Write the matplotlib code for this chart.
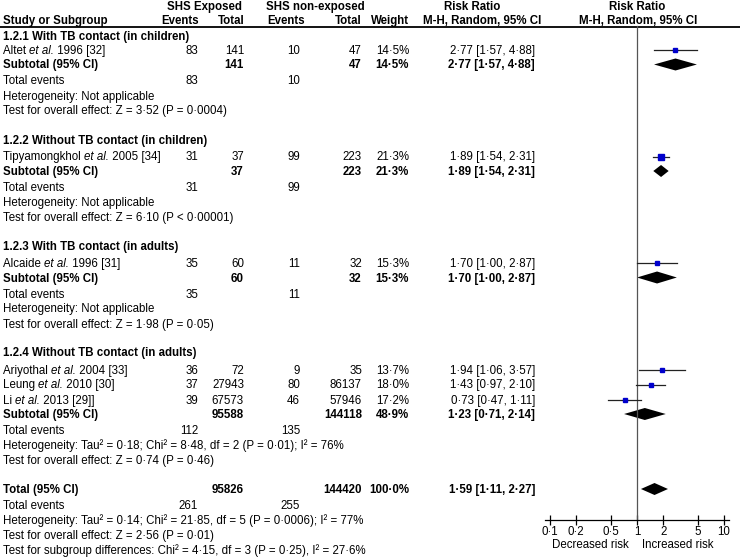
import matplotlib
matplotlib.use('Agg')
import matplotlib.pyplot as plt

plt.rcParams['font.family'] = ['Liberation Sans', 'DejaVu Sans']
FS = 8.3

# studies
authors = ['Altet', 'Tipyamongkhol', 'Alcaide', 'Ariyothal', 'Leung', 'Li']
refs = ['1996 [32]', '2005 [34]', '1996 [31]', '2004 [33]', '2010 [30]', '2013 [29]]']
study_group = [0, 1, 2, 3, 3, 3]
exp_events = [83, 31, 35, 36, 37, 39]
exp_total = [141, 37, 60, 72, 27943, 67573]
non_events = [10, 99, 11, 9, 80, 46]
non_total = [47, 223, 32, 35, 86137, 57946]
weights = [14.5, 21.3, 15.3, 13.7, 18.0, 17.2]
rr = [2.77, 1.89, 1.70, 1.94, 1.43, 0.73]
rr_lo = [1.57, 1.54, 1.00, 1.06, 0.97, 0.47]
rr_hi = [4.88, 2.31, 2.87, 3.57, 2.10, 1.11]

# subgroups
sub_names = ['1.2.1 With TB contact (in children)', '1.2.2 Without TB contact (in children)',
             '1.2.3 With TB contact (in adults)', '1.2.4 Without TB contact (in adults)']
sub_exp_total = [141, 37, 60, 95588]
sub_non_total = [47, 223, 32, 144118]
sub_exp_events = [83, 31, 35, 112]
sub_non_events = [10, 99, 11, 135]
sub_weights = [14.5, 21.3, 15.3, 48.9]
sub_rr = [2.77, 1.89, 1.70, 1.23]
sub_lo = [1.57, 1.54, 1.00, 0.71]
sub_hi = [4.88, 2.31, 2.87, 2.14]
sub_het = ['Not applicable', 'Not applicable', 'Not applicable',
           'Tau² = 0·18; Chi² = 8·48, df = 2 (P = 0·01); I² = 76%']
sub_z = ['Z = 3·52 (P = 0·0004)', 'Z = 6·10 (P < 0·00001)', 'Z = 1·98 (P = 0·05)', 'Z = 0·74 (P = 0·46)']

# overall
tot_exp_total, tot_non_total = 95826, 144420
tot_exp_events, tot_non_events = 261, 255
tot_weight = 100.0
tot_rr, tot_lo, tot_hi = 1.59, 1.11, 2.27
tot_het = 'Tau² = 0·14; Chi² = 21·85, df = 5 (P = 0·0006); I² = 77%'
tot_z = 'Z = 2·56 (P = 0·01)'
sub_diff = 'Chi² = 4·15, df = 3 (P = 0·25), I² = 27·6%'

ticks = [0.1, 0.2, 0.5, 1, 2, 5, 10]
tick_labels = ['0·1', '0·2', '0·5', '1', '2', '5', '10']


def fmt(v, n=2):
    return f'{v:.{n}f}'.replace('.', '·')


def ci_label(r, l, h):
    return f'{fmt(r)} [{fmt(l)}, {fmt(h)}]'


fig = plt.figure(figsize=(7.4, 5.59), dpi=100)
ax = fig.add_axes([0, 0, 1, 1])
ax.set_xlim(0, 740)
ax.set_ylim(559, 0)
ax.axis('off')

# forest panel: 1 -> x=637 px, 87 px per decade
X_ONE, DEC = 637, 87
fx0, fx1 = 545, 729
fx = fig.add_axes([fx0 / 740, 0, (fx1 - fx0) / 740, 1])
fx.set_xscale('log')
fx.set_xlim(10 ** ((fx0 - X_ONE) / DEC), 10 ** ((fx1 - X_ONE) / DEC))
fx.set_ylim(559, 0)
fx.patch.set_visible(False)
for s in ['top', 'right', 'left']:
    fx.spines[s].set_visible(False)
fx.spines['bottom'].set_position(('data', 520))
fx.spines['bottom'].set_linewidth(0.9)
fx.set_yticks([])
fx.set_xticks(ticks)
fx.set_xticklabels(tick_labels)
fx.minorticks_off()
fx.tick_params(axis='x', direction='inout', length=7, width=0.9, labelsize=FS, pad=1)
ax.text(590, 545, 'Decreased risk', ha='center', va='center', fontsize=FS)
ax.text(678, 545, 'Increased risk', ha='center', va='center', fontsize=FS)
fx.plot([1, 1], [26, 520], color='#555555', lw=0.9)

renderer = fig.canvas.get_renderer()
BL = 4  # baseline offset from row centre


def txt(x, y, s, ha='left', bold=False):
    return ax.text(x, round(y) + BL, s, ha=ha, va='baseline', fontsize=FS,
                   fontweight='bold' if bold else 'normal')


def study_name(x, y, author, ref):
    for s, style in [(author + ' ', 'normal'), ('et al.', 'italic'), (' ' + ref, 'normal')]:
        t = ax.text(x, round(y) + BL, s, va='baseline', fontsize=FS, style=style)
        x += t.get_window_extent(renderer).width


def square(y, r, l, h, w):
    fx.plot([l, h], [y, y], color='#222222', lw=0.9)
    fx.plot([r], [y], 's', ms=(w ** 0.5) * 1.1 * 0.72, color='#0000cc', mec='#0000cc')


def diamond(y, r, l, h):
    fx.fill([l, r, h, r], [y, y - 6, y, y + 6], color='black', lw=0)


# column edges
C_EE, C_ET, C_NE, C_NT, C_W, C_RR = 198, 244, 300, 362, 409, 535

# headers
for xc, s in [(204, 'SHS Exposed'), (315, 'SHS non-exposed'), (472, 'Risk Ratio'), (637, 'Risk Ratio')]:
    txt(xc, 6, s, ha='center', bold=True)
txt(3, 20, 'Study or Subgroup', bold=True)
txt(199, 20, 'Events', ha='right', bold=True)
txt(245, 20, 'Total', ha='right', bold=True)
txt(305, 20, 'Events', ha='right', bold=True)
txt(362, 20, 'Total', ha='right', bold=True)
txt(409, 20, 'Weight', ha='right', bold=True)
txt(482, 20, 'M-H, Random, 95% CI', ha='center', bold=True)
txt(638, 20, 'M-H, Random, 95% CI', ha='center', bold=True)
ax.plot([0, 740], [26.5, 26.5], color='black', lw=1.3)

y = 36
for g in range(4):
    txt(3, y, sub_names[g], bold=True)
    y += 14 if g == 0 else 17
    idx = [i for i in range(len(authors)) if study_group[i] == g]
    for k, i in enumerate(idx):
        if k > 0:
            y += 15
        study_name(3, y, authors[i], refs[i])
        txt(C_EE, y, str(exp_events[i]), ha='right')
        txt(C_ET, y, str(exp_total[i]), ha='right')
        txt(C_NE, y, str(non_events[i]), ha='right')
        txt(C_NT, y, str(non_total[i]), ha='right')
        txt(C_W, y, fmt(weights[i], 1) + '%', ha='right')
        txt(C_RR, y, ci_label(rr[i], rr_lo[i], rr_hi[i]), ha='right')
        square(y, rr[i], rr_lo[i], rr_hi[i], weights[i])
    y += 14.5
    txt(3, y, 'Subtotal (95% CI)', bold=True)
    txt(C_ET, y, str(sub_exp_total[g]), ha='right', bold=True)
    txt(C_NT, y, str(sub_non_total[g]), ha='right', bold=True)
    txt(C_W, y, fmt(sub_weights[g], 1) + '%', ha='right', bold=True)
    txt(C_RR, y, ci_label(sub_rr[g], sub_lo[g], sub_hi[g]), ha='right', bold=True)
    diamond(y, sub_rr[g], sub_lo[g], sub_hi[g])
    y += 16
    txt(3, y, 'Total events')
    txt(C_EE, y, str(sub_exp_events[g]), ha='right')
    txt(C_NE, y, str(sub_non_events[g]), ha='right')
    y += 15
    txt(3, y, 'Heterogeneity: ' + sub_het[g])
    y += 15
    txt(3, y, 'Test for overall effect: ' + sub_z[g])
    y += 29

txt(3, y, 'Total (95% CI)', bold=True)
txt(C_ET, y, str(tot_exp_total), ha='right', bold=True)
txt(C_NT, y, str(tot_non_total), ha='right', bold=True)
txt(C_W, y, fmt(tot_weight, 1) + '%', ha='right', bold=True)
txt(C_RR, y, ci_label(tot_rr, tot_lo, tot_hi), ha='right', bold=True)
diamond(y, tot_rr, tot_lo, tot_hi)
y += 16
txt(3, y, 'Total events')
txt(C_EE, y, str(tot_exp_events), ha='right')
txt(C_NE, y, str(tot_non_events), ha='right')
y += 15
txt(3, y, 'Heterogeneity: ' + tot_het)
y += 15
txt(3, y, 'Test for overall effect: ' + tot_z)
y += 15
txt(3, y, 'Test for subgroup differences: ' + sub_diff)

fig.savefig('out.png', dpi=100)
